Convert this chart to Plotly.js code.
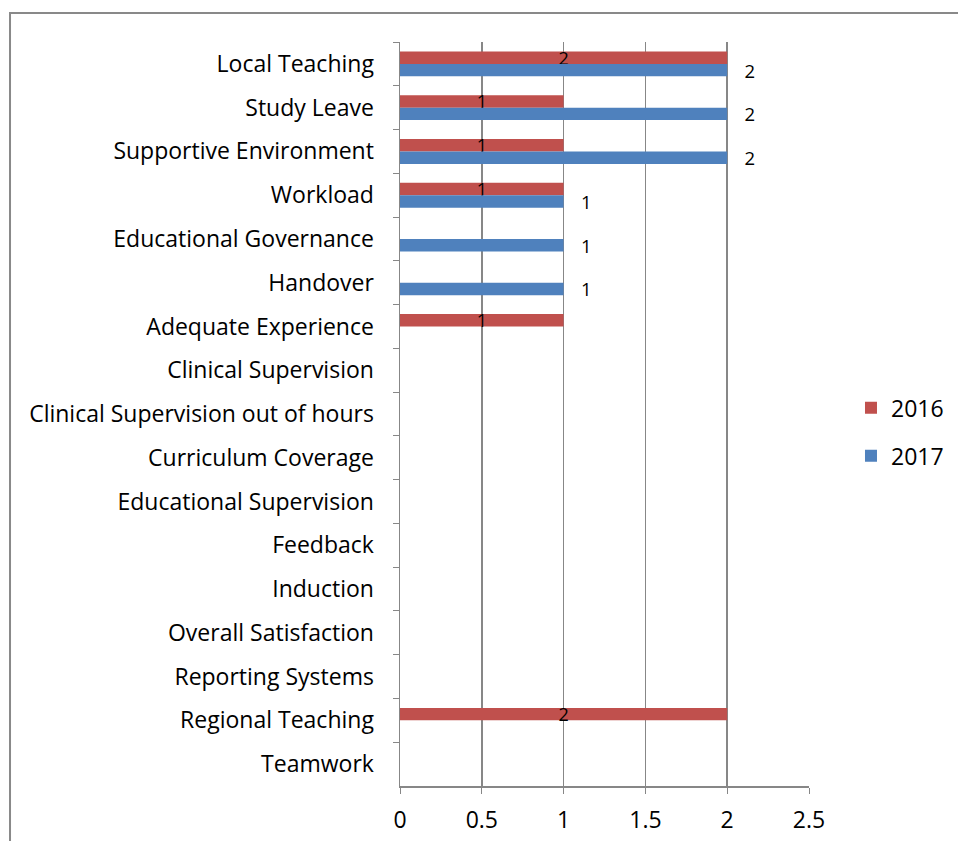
<!DOCTYPE html>
<html>
<head>
<meta charset="utf-8">
<script src="https://cdn.plot.ly/plotly-3.0.1.min.js"></script>
<style>html,body{margin:0;padding:0;background:#fff;}#chart{width:958px;height:841px;}</style>
</head>
<body>
<div id="chart"></div>
<script>
const categories = ["Local Teaching","Study Leave","Supportive Environment","Workload","Educational Governance","Handover","Adequate Experience","Clinical Supervision","Clinical Supervision out of hours","Curriculum Coverage","Educational Supervision","Feedback","Induction","Overall Satisfaction","Reporting Systems","Regional Teaching","Teamwork"];
const values2016 = [2,1,1,1,null,null,1,null,null,null,null,null,null,null,null,2,null];
const values2017 = [2,2,2,1,1,1,null,null,null,null,null,null,null,null,null,null,null];
const xTicks = [0,0.5,1,1.5,2,2.5];
const xTickLabels = ["0","0.5","1","1.5","2","2.5"];

const FONT = "'Open Sans', Lato, sans-serif";
const traces = [
  {type:"bar", orientation:"h", name:"2016", y:categories, x:values2016,
   marker:{color:"#C0504D"}, legendgroup:"a",
   text:values2016.map(v=>v==null?"":String(v)), textposition:"inside", insidetextanchor:"middle",
   constraintext:"none", textangle:0, textfont:{family:FONT,size:18,color:"#000"},
   hoverinfo:"x+y"},
  {type:"bar", orientation:"h", name:"2017", y:categories, x:values2017,
   marker:{color:"#4F81BD"}, legendgroup:"b",
   text:values2017.map(v=>v==null?"":"\u00a0\u00a0\u00a0"+v), textposition:"outside",
   constraintext:"none", cliponaxis:false, textangle:0, textfont:{family:FONT,size:18.5,color:"#000"},
   hoverinfo:"x+y"}
];

const layout = {
  width:958, height:841,
  margin:{l:400, r:149, t:42, b:55, autoexpand:false},
  paper_bgcolor:"#fff", plot_bgcolor:"#fff",
  font:{family:FONT, size:23, color:"#000"},
  barmode:"group", bargap:0.43, bargroupgap:0,
  xaxis:{range:[0,2.5], tickvals:xTicks, ticktext:xTickLabels, showgrid:true, gridcolor:"#878787", gridwidth:1.5,
         zeroline:false, showline:true, linecolor:"#878787", linewidth:1.5, ticks:"outside", ticklen:6, tickcolor:"#878787",
         tickfont:{size:23}, ticklabelstandoff:7, fixedrange:true, automargin:false},
  yaxis:{type:"category", autorange:false, range:[16.5,-0.5], showgrid:false, zeroline:false,
         showline:true, linecolor:"#878787", linewidth:1.5, ticks:"outside", ticklen:6, tickcolor:"#878787",
         tickson:"boundaries", tickfont:{size:23}, ticklabelstandoff:20, automargin:false},
  showlegend:true,
  legend:{xref:"container", yref:"container", x:0.8883, xanchor:"left", y:0.5406, yanchor:"top",
          traceorder:"grouped", tracegroupgap:15, font:{size:23}, bgcolor:"rgba(0,0,0,0)"},
  shapes:[{type:"rect", xref:"paper", yref:"paper", x0:-0.9535, x1:1.40, y0:1.039, y1:-0.09,
           line:{color:"#898989", width:2}, fillcolor:"rgba(0,0,0,0)", layer:"above"}]
};

Plotly.newPlot("chart", traces, layout, {staticPlot:true});
</script>
</body>
</html>
